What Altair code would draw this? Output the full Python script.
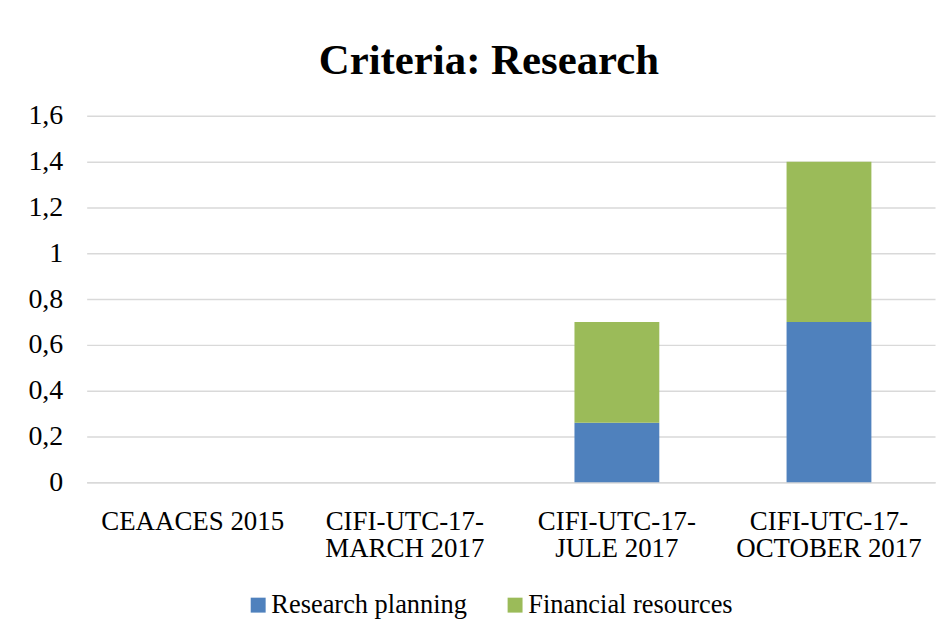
import altair as alt
import pandas as pd

categories = ["CEAACES 2015", "CIFI-UTC-17-\nMARCH 2017", "CIFI-UTC-17-\nJULE 2017", "CIFI-UTC-17-\nOCTOBER 2017"]
series = ["Research planning", "Financial resources"]
research_planning = [0, 0, 0.26, 0.70]
financial_resources = [0, 0, 0.44, 0.70]
colors = ["#4F81BD", "#9BBB59"]
y_ticks = [0, 0.2, 0.4, 0.6, 0.8, 1.0, 1.2, 1.4, 1.6]

rows = []
for i, c in enumerate(categories):
    rows.append({"category": c, "series": series[0], "order": 0, "value": research_planning[i]})
    rows.append({"category": c, "series": series[1], "order": 1, "value": financial_resources[i]})
df = pd.DataFrame(rows)

FONT = "Liberation Serif"

chart = alt.Chart(df).mark_bar().encode(
    x=alt.X("category:N", sort=categories, title=None,
            scale=alt.Scale(paddingInner=0.6, paddingOuter=0.3),
            axis=alt.Axis(labelAngle=0, labelExpr="split(datum.value, '\\n')",
                          labelFont=FONT, labelFontSize=27, labelColor="#000000",
                          labelLineHeight=28, labelPadding=26, labelLimit=0,
                          grid=False, ticks=False, domainColor="#D9D9D9", domainWidth=1.5)),
    y=alt.Y("value:Q", stack="zero", title=None,
            scale=alt.Scale(domain=[0, 1.6], nice=False),
            axis=alt.Axis(values=y_ticks, labelExpr="replace(format(datum.value, ''), '.', ',')",
                          labelFont=FONT, labelFontSize=28, labelColor="#000000",
                          labelPadding=24, ticks=False, domain=False,
                          gridColor="#D9D9D9", gridWidth=1.5)),
    color=alt.Color("series:N", sort=series, scale=alt.Scale(domain=series, range=colors),
                    legend=alt.Legend(title=None, orient="none", direction="horizontal",
                                      legendX=159, legendY=478,
                                      symbolType="square", symbolSize=225,
                                      symbolStrokeWidth=0, columnPadding=35, labelOffset=0,
                                      labelFont=FONT, labelFontSize=26.5, labelLimit=0,
                                      labelColor="#000000")),
    order=alt.Order("order:Q"),
).properties(
    width=852,
    height=368,
    background="white",
    title=alt.TitleParams("Criteria: Research", font=FONT, fontSize=43,
                          fontWeight="bold", color="#000000", offset=19, dx=-22,
                          anchor="middle"),
    padding={"left": 20, "top": 31, "right": 5, "bottom": 5},
).configure_view(stroke=None, strokeWidth=0)

chart.save("out.html", embed_options={"renderer": "svg", "actions": False})
